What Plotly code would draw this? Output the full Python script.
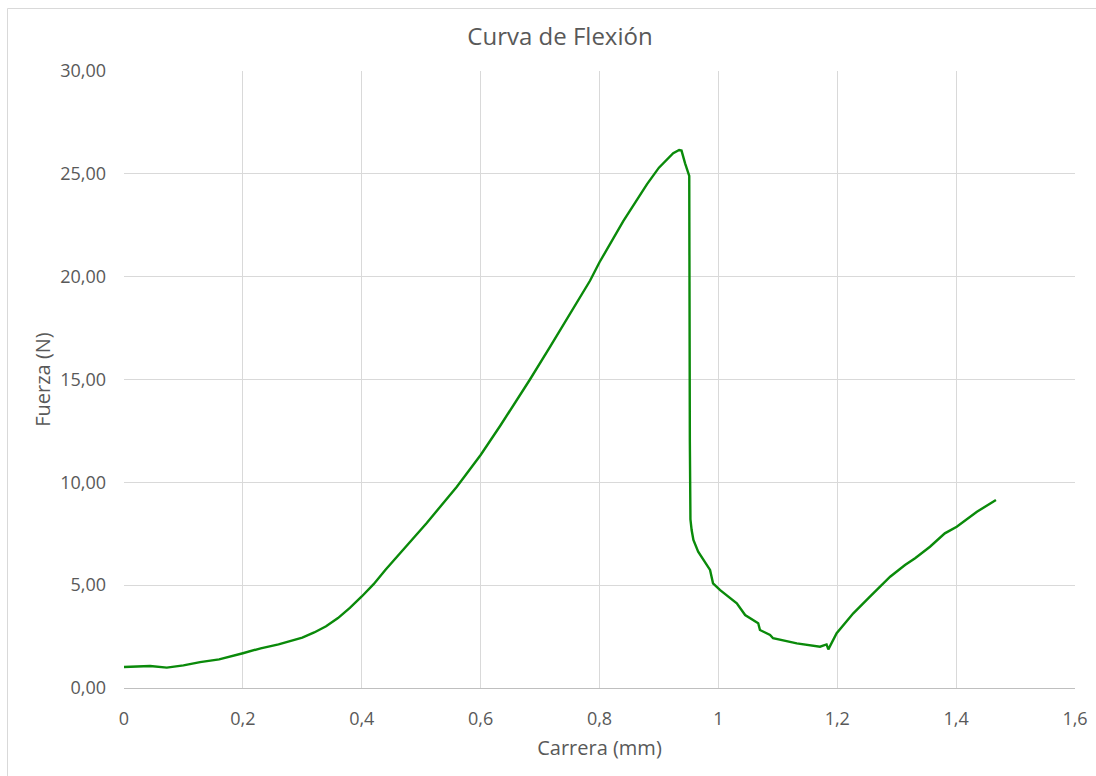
import plotly.graph_objects as go

# Ensayo de flexión: carrera (mm) frente a fuerza (N)
carrera_mm = [0.000, 0.020, 0.044, 0.072, 0.100, 0.128, 0.160, 0.200, 0.230, 0.260,
              0.280, 0.300, 0.320, 0.340, 0.360, 0.380, 0.400, 0.420, 0.440, 0.464,
              0.509, 0.560, 0.600, 0.633, 0.660, 0.683, 0.717, 0.750, 0.784, 0.800,
              0.820, 0.840, 0.860, 0.880, 0.900, 0.915, 0.924, 0.934, 0.938, 0.944,
              0.949, 0.951, 0.952, 0.953, 0.955, 0.958, 0.966, 0.986, 0.991, 1.003,
              1.031, 1.045, 1.067, 1.070, 1.087, 1.092, 1.132, 1.171, 1.182, 1.185,
              1.199, 1.227, 1.255, 1.289, 1.314, 1.331, 1.356, 1.381, 1.401, 1.435,
              1.467]
fuerza_n = [1.02, 1.05, 1.07, 0.99, 1.10, 1.26, 1.39, 1.69, 1.93, 2.12,
            2.27, 2.45, 2.70, 3.00, 3.40, 3.90, 4.45, 5.05, 5.75, 6.55,
            8.01, 9.79, 11.33, 12.75, 13.95, 15.00, 16.60, 18.20, 19.80, 20.70,
            21.70, 22.70, 23.60, 24.50, 25.30, 25.75, 26.00, 26.16, 26.13, 25.51,
            25.10, 24.90, 12.00, 8.20, 7.68, 7.20, 6.63, 5.74, 5.09, 4.76,
            4.12, 3.55, 3.15, 2.82, 2.58, 2.42, 2.17, 2.01, 2.12, 1.88,
            2.66, 3.63, 4.44, 5.41, 5.98, 6.31, 6.87, 7.52, 7.84, 8.57,
            9.14]

x_ticks = [0, 0.2, 0.4, 0.6, 0.8, 1.0, 1.2, 1.4, 1.6]
y_ticks = [0, 5, 10, 15, 20, 25, 30]

W, H = 1096, 776
ML, MR, MT, MB = 124, 21, 71, 88
PW, PH = W - ML - MR, H - MT - MB


def px(xp):
    return (xp - ML) / PW


def py(yp):
    return (H - MB - yp) / PH


font_main = "Open Sans, Liberation Sans, sans-serif"
gris = "#595959"

fig = go.Figure(
    go.Scatter(
        x=carrera_mm,
        y=fuerza_n,
        mode="lines",
        line=dict(color="#0a8a0a", width=2.4),
        showlegend=False,
    )
)

fig.update_layout(
    width=W,
    height=H,
    margin=dict(l=ML, r=MR, t=MT, b=MB, autoexpand=False),
    paper_bgcolor="white",
    plot_bgcolor="white",
    separators=",.",
    font=dict(family=font_main, color=gris, size=18),
    title=dict(
        text="Curva de Flexión",
        x=560 / W,
        xanchor="center",
        y=1 - 37 / H,
        yanchor="middle",
        font=dict(size=24, color=gris, family=font_main),
    ),
    xaxis=dict(
        range=[0, 1.6],
        tickvals=x_ticks,
        automargin=False,
        showgrid=True,
        gridcolor="#d9d9d9",
        gridwidth=1,
        zeroline=False,
        showline=True,
        linecolor="#bfbfbf",
        linewidth=1,
        ticks="",
        ticklabelstandoff=14,
        tickfont=dict(size=18, color=gris),
        title=dict(text="Carrera (mm)", font=dict(size=20, color=gris), standoff=12),
    ),
    yaxis=dict(
        range=[0, 30],
        tickvals=y_ticks,
        tickformat=".2f",
        automargin=False,
        showgrid=True,
        gridcolor="#d9d9d9",
        gridwidth=1,
        zeroline=False,
        showline=False,
        ticks="",
        ticklen=0,
        ticklabelstandoff=17,
        tickfont=dict(size=18, color=gris),
        title=dict(text="Fuerza (N)", font=dict(size=20, color=gris), standoff=4),
    ),
    shapes=[
        dict(
            type="rect",
            xref="paper",
            yref="paper",
            x0=px(7.5),
            x1=px(1104),
            y0=py(790),
            y1=py(8.5),
            line=dict(color="#d9d9d9", width=1),
            fillcolor="rgba(0,0,0,0)",
            layer="below",
        )
    ],
)

fig.write_html("out.html")
